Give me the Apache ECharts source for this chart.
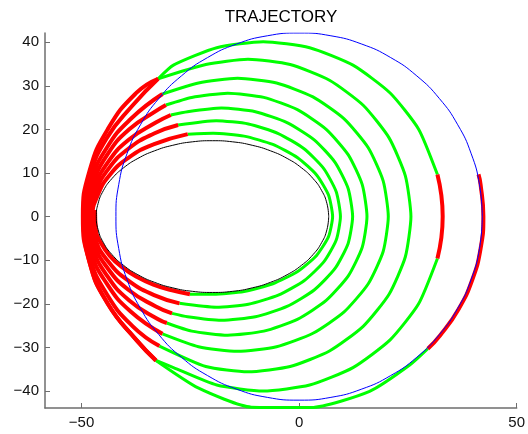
<!DOCTYPE html>
<html><head><meta charset="utf-8">
<script src="https://cdn.jsdelivr.net/npm/echarts@6/dist/echarts.min.js"></script>
<style>html,body{margin:0;padding:0;background:#fff}#c{width:528px;height:434px}</style>
</head><body><div id="c"></div>
<script>
// ---- axis ticks ----
const xTicks = [-50, 0, 50];
const yTicks = [-40, -30, -20, -10, 0, 10, 20, 30, 40];

// ---- final circular orbit (blue) ----
const geoOrbit = [[42.1,0],[41.46,7.31],[39.56,14.4],[36.46,21.05],[32.25,27.06],[27.06,32.25],[21.05,36.46],[14.4,39.56],[7.31,41.46],[0,42.1],[-7.31,41.46],[-14.4,39.56],[-21.05,36.46],[-27.06,32.25],[-32.25,27.06],[-36.46,21.05],[-39.56,14.4],[-41.46,7.31],[-42.1,0],[-41.46,-7.31],[-39.56,-14.4],[-36.46,-21.05],[-32.25,-27.06],[-27.06,-32.25],[-21.05,-36.46],[-14.4,-39.56],[-7.31,-41.46],[0,-42.1],[7.31,-41.46],[14.4,-39.56],[21.05,-36.46],[27.06,-32.25],[32.25,-27.06],[36.46,-21.05],[39.56,-14.4],[41.46,-7.31],[42.1,0]];

// ---- initial orbit (black) ----
const initialOrbit = [[6.8,0],[6.39,3.02],[5.19,5.95],[3.22,8.7],[0.55,11.18],[-2.74,13.33],[-6.55,15.07],[-10.77,16.35],[-15.26,17.14],[-19.9,17.4],[-24.54,17.14],[-29.03,16.35],[-33.25,15.07],[-37.06,13.33],[-40.35,11.18],[-43.02,8.7],[-44.99,5.95],[-46.19,3.02],[-46.6,0],[-46.19,-3.02],[-44.99,-5.95],[-43.02,-8.7],[-40.35,-11.18],[-37.06,-13.33],[-33.25,-15.07],[-29.03,-16.35],[-24.54,-17.14],[-19.9,-17.4],[-15.26,-17.14],[-10.77,-16.35],[-6.55,-15.07],[-2.74,-13.33],[0.55,-11.18],[3.22,-8.7],[5.19,-5.95],[6.39,-3.02],[6.8,0]];

// ---- coast arcs (green) ----
const coast1 = [[-25.1,-17.8],[-19.75,-17.8],[-12.65,-17.19],[-6.03,-15.41],[-0.34,-12.59],[4.02,-8.9],[6.76,-4.61],[7.7,0],[6.76,4.94],[4.02,9.55],[-0.34,13.51],[-6.03,16.54],[-12.65,18.45],[-19.75,19.1],[-25.6,18.9]];
const coast2 = [[-27.5,-19.9],[-19.05,-20.8],[-11.66,-20.09],[-4.78,-18.01],[1.14,-14.71],[5.67,-10.4],[8.53,-5.38],[9.5,0],[8.53,5.69],[5.67,11.0],[1.14,15.56],[-4.78,19.05],[-11.66,21.25],[-19.05,22.0],[-27.8,21.0]];
const coast3 = [[-29.2,-22.2],[-25.65,-22.99],[-17.85,-23.8],[-10.05,-22.99],[-2.78,-20.61],[3.47,-16.83],[8.26,-11.9],[11.27,-6.16],[12.3,0],[11.27,6.44],[8.26,12.45],[3.47,17.61],[-2.78,21.56],[-10.05,24.05],[-17.85,24.9],[-25.65,24.05],[-29.5,23.3]];
const coast4 = [[-30.4,-24.4],[-24.68,-26.27],[-16.4,-27.2],[-8.12,-26.27],[-0.4,-23.56],[6.23,-19.23],[11.31,-13.6],[14.51,-7.04],[15.6,0],[14.51,7.32],[11.31,14.15],[6.23,20.01],[-0.4,24.51],[-8.12,27.33],[-16.4,28.3],[-24.68,27.33],[-30.6,25.6]];
const coast5 = [[-31.4,-26.9],[-23.12,-29.85],[-14.15,-30.9],[-5.18,-29.85],[3.18,-26.76],[10.35,-21.85],[15.86,-15.45],[19.32,-8.0],[20.5,0],[19.32,8.2],[15.86,15.85],[10.35,22.42],[3.18,27.45],[-5.18,30.62],[-14.15,31.7],[-23.12,30.62],[-31.4,28.1]];
const coast6 = [[-32.1,-29.7],[-21.44,-34.39],[-11.75,-35.6],[-2.06,-34.39],[6.98,-30.83],[14.73,-25.17],[20.68,-17.8],[24.42,-9.21],[25.7,0],[24.42,9.34],[20.68,18.05],[14.73,25.53],[6.98,31.26],[-2.06,34.87],[-11.75,36.1],[-21.44,34.87],[-32.4,31.6]];
const coast7a = [[-32.9,-33.0],[-28.88,-34.64],[-18.93,-38.64],[-8.25,-40.0],[2.43,-38.64],[12.38,-34.64],[20.92,-28.28],[27.47,-20.0],[31.79,-9.61]];
const coast7b = [[31.79,9.63],[27.47,20.05],[20.92,28.35],[12.38,34.73],[2.43,38.73],[-8.25,40.1],[-18.93,38.73],[-28.88,34.73],[-32.4,31.6]];
const coast8 = [[-32.9,-33.0],[-23.2,-39.3],[-11.0,-43.7],[2.8,-43.8],[16.2,-40.1],[25.5,-34.0],[29.58,-30.31]];

// ---- thrust arcs (red) ----
const burn1 = [[-46.9,1.5],[-46.7,-3.1],[-45.5,-6.1],[-43.5,-9.0],[-40.7,-11.6],[-37.35,-13.8],[-33.5,-15.6],[-29.2,-16.9],[-25.1,-17.8]];
const burn2 = [[-25.6,18.9],[-33.48,16.54],[-39.16,13.51],[-43.52,9.55],[-46.26,4.94],[-47.5,0],[-46.7,-5.38],[-43.77,-10.4],[-39.24,-14.71],[-33.33,-18.01],[-27.5,-19.9]];
const burn3 = [[-27.8,21.0],[-33.33,19.05],[-39.24,15.56],[-43.77,11.0],[-46.7,5.69],[-47.95,0],[-47.05,-6.16],[-43.96,-11.9],[-39.17,-16.83],[-32.93,-20.61],[-29.2,-22.2]];
const burn4 = [[-29.5,23.3],[-32.93,21.56],[-39.17,17.61],[-43.96,12.45],[-47.05,6.44],[-48.4,0],[-47.4,-7.04],[-44.11,-13.6],[-39.03,-19.23],[-32.4,-23.56],[-30.4,-24.4]];
const burn5 = [[-30.6,25.6],[-32.4,24.51],[-39.03,20.01],[-44.11,14.15],[-47.4,7.32],[-48.8,0],[-47.75,-8.0],[-44.16,-15.45],[-38.65,-21.85],[-31.4,-26.9]];
const burn6 = [[-31.4,28.1],[-38.65,22.42],[-44.16,15.85],[-47.75,8.2],[-49.2,0],[-48.05,-9.21],[-44.18,-17.8],[-38.23,-25.17],[-32.1,-29.7]];
const burn7 = [[-32.4,31.6],[-38.23,25.53],[-44.18,18.05],[-48.05,9.34],[-49.5,0],[-48.2,-10.35],[-43.97,-20.0],[-37.42,-28.28],[-32.9,-33.0]];
const burn8 = [[-32.4,31.6],[-37.42,28.35],[-43.97,20.05],[-48.2,10.38],[-49.7,0],[-48.2,-10.35],[-43.97,-20.0],[-37.42,-28.28],[-32.9,-33.0]];
const perigeeBurn = [[31.79,-9.61],[32.69,-4.88],[33.0,0],[32.69,4.89],[31.79,9.63]];
const circBurn = [[29.58,-30.31],[32.44,-27.22],[36.68,-21.18],[39.8,-14.48],[41.71,-7.35],[42.35,0],[41.71,7.35],[41.23,9.67]];

const coasts = [coast1, coast2, coast3, coast4, coast5, coast6, coast7a, coast7b, coast8];
const burns = [burn1, burn2, burn3, burn4, burn5, burn6, burn7, burn8, perigeeBurn, circBurn];

const FONT = '"Liberation Sans", Arial, Helvetica, sans-serif';
const AXC = '#6e6e6e';
const fmt = v => (v < 0 ? '\u2212' + Math.abs(v) : String(v));

function lineSeries(data, color, width, z, smooth) {
  return { type: 'line', data: data, showSymbol: false, symbol: 'none', silent: true,
    animation: false, z: z, smooth: smooth, clip: true,
    lineStyle: { color: color, width: width, cap: 'butt', join: 'round' } };
}

const series = [];
coasts.forEach(d => series.push(lineSeries(d, '#00ff00', 3, 2, 0.2)));
burns.forEach(d => series.push(lineSeries(d, '#ff0000', 4, 3, 0.5)));
series.push(lineSeries(initialOrbit, '#000000', 1, 4, 0.5));
series.push(lineSeries(geoOrbit, '#0000ff', 1, 5, 0.5));

const chart = echarts.init(document.getElementById('c'), null, { renderer: 'canvas' });
chart.setOption({
  animation: false,
  backgroundColor: '#ffffff',
  title: { text: 'TRAJECTORY', left: 276, top: 4, textAlign: 'center',
    textStyle: { fontFamily: FONT, fontSize: 17, fontWeight: 'normal', color: '#000' } },
  grid: { left: 45, right: 10, top: 33, bottom: 26, containLabel: false },
  xAxis: {
    type: 'value', min: -58.4, max: 50,
    axisLine: { show: true, onZero: false, lineStyle: { color: AXC, width: 1.5 } },
    axisTick: { show: true, inside: true, length: 5, customValues: xTicks, lineStyle: { color: AXC } },
    axisLabel: { customValues: xTicks, formatter: fmt, margin: 7, color: '#111', fontFamily: FONT, fontSize: 15 },
    splitLine: { show: false }
  },
  yAxis: {
    type: 'value', min: -43.9, max: 42.1,
    axisLine: { show: true, onZero: false, lineStyle: { color: AXC, width: 1.5 } },
    axisTick: { show: true, inside: true, length: 5, customValues: yTicks, lineStyle: { color: AXC } },
    axisLabel: { customValues: yTicks, formatter: fmt, margin: 6, color: '#111', fontFamily: FONT, fontSize: 15 },
    splitLine: { show: false }
  },
  series: series
});
</script>
</body></html>
